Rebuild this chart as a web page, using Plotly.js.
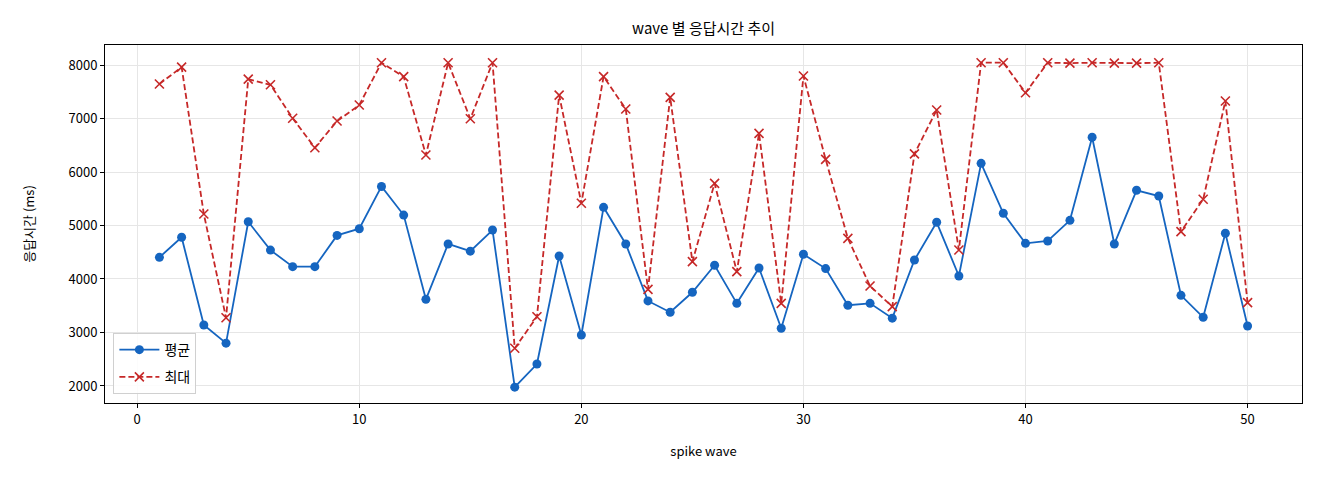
<!DOCTYPE html>
<html>
<head>
<meta charset="utf-8">
<script src="https://cdn.plot.ly/plotly-3.0.1.min.js"></script>
<style>
  html, body { margin: 0; padding: 0; background: #fff; }
  #chart { width: 1320px; height: 480px; }
</style>
</head>
<body>
<div id="chart"></div>
<script>
// Spike wave numbers 1..50
const waves = [1,2,3,4,5,6,7,8,9,10,11,12,13,14,15,16,17,18,19,20,
               21,22,23,24,25,26,27,28,29,30,31,32,33,34,35,36,37,38,39,40,
               41,42,43,44,45,46,47,48,49,50];

// Average response time per wave (ms)
const avgMs = [4405,4780,3140,2800,5070,4540,4230,4230,4815,4940,
               5730,5195,3620,4655,4520,4915,1978,2410,4430,2953,
               5340,4655,3590,3378,3752,4256,3545,4206,3080,4462,
               4195,3510,3545,3268,4355,5060,4056,6162,5228,4667,
               4710,5097,6650,4655,5658,5551,3695,3284,4855,3121];

// Maximum response time per wave (ms)
const maxMs = [7645,7960,5215,3275,7735,7630,7004,6454,6953,7252,
               8043,7782,6318,8043,6996,8043,2705,3295,7437,5415,
               7782,7178,3807,7396,4324,5788,4137,6723,3545,7794,
               6237,4760,3869,3483,6340,7159,4542,8043,8043,7482,
               8043,8035,8043,8035,8035,8043,4885,5490,7327,3557];

const font = "'Noto Sans CJK KR', 'Noto Sans', 'DejaVu Sans', sans-serif";

const traces = [
  {
    x: waves, y: avgMs, name: '평균', type: 'scatter', mode: 'lines+markers',
    legendgroup: 'avg',
    line: { color: '#1565C0', width: 1.8 },
    marker: { symbol: 'circle', size: 9, color: '#1565C0' }
  },
  {
    x: waves, y: maxMs, name: '최대', type: 'scatter', mode: 'lines+markers',
    legendgroup: 'max',
    line: { color: '#C62828', width: 1.8, dash: '6px,3px' },
    marker: { symbol: 'x-thin-open', size: 9, color: '#C62828', line: { color: '#C62828', width: 1.6 } }
  }
];

const axisCommon = {
  showline: true, linecolor: '#000', linewidth: 1, mirror: true,
  ticks: 'outside', ticklen: 4, tickwidth: 1, tickcolor: '#000',
  showgrid: true, gridcolor: '#e6e6e6', gridwidth: 1,
  zeroline: false,
  tickfont: { family: font, size: 13, color: '#000' }
};

const layout = {
  width: 1320, height: 480,
  margin: { l: 105, r: 18, t: 45, b: 77 },
  paper_bgcolor: '#fff', plot_bgcolor: '#fff',
  font: { family: font, color: '#000' },
  title: { text: 'wave 별 응답시간 추이', font: { family: font, size: 15, color: '#000' }, x: 0.533, xanchor: 'center', y: 0.94, yanchor: 'middle' },
  xaxis: Object.assign({}, axisCommon, {
    range: [-1.45, 52.45], tickvals: [0,10,20,30,40,50],
    title: { text: 'spike wave', font: { family: font, size: 13, color: '#000' }, standoff: 20 }
  }),
  yaxis: Object.assign({}, axisCommon, {
    range: [1682, 8374], tickvals: [2000,3000,4000,5000,6000,7000,8000],
    title: { text: '응답시간 (ms)', font: { family: font, size: 13, color: '#000' }, standoff: 30 }
  }),
  legend: {
    x: 0.007, y: 0.025, xanchor: 'left', yanchor: 'bottom',
    traceorder: 'grouped', tracegroupgap: 6, itemwidth: 40,
    bgcolor: 'rgba(255,255,255,0.85)', bordercolor: '#d0d0d0', borderwidth: 1,
    font: { family: font, size: 14, color: '#000' }
  },
  showlegend: true
};

Plotly.newPlot('chart', traces, layout, { displayModeBar: false, staticPlot: true });
</script>
</body>
</html>
